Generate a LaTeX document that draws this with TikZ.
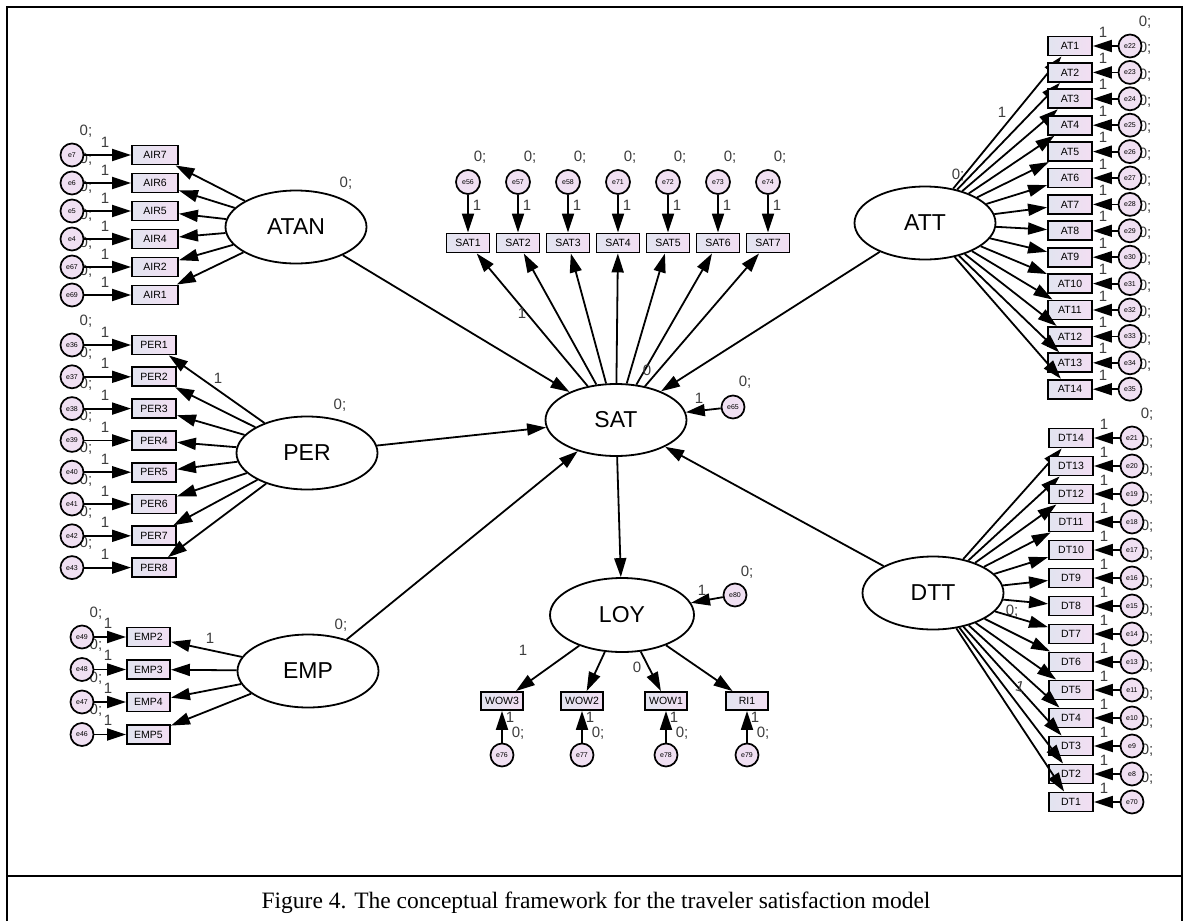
\documentclass[tikz,border=0pt]{standalone}
\usepackage{fontspec}
\setmainfont{Liberation Sans}
\newfontfamily\capfont{Liberation Serif}
\usetikzlibrary{arrows.meta,shapes.geometric}
\pgfdeclarelayer{bg}
\pgfsetlayers{bg,main}
\definecolor{boxL}{RGB}{226,228,240}
\definecolor{boxR}{RGB}{242,222,242}
\definecolor{errfill}{RGB}{240,224,242}
\definecolor{numgray}{RGB}{60,60,60}
\tikzset{
 obs/.style={draw, line width=1.9pt, left color=boxL, right color=boxR, minimum width=44pt, minimum height=19pt, inner sep=0pt, font=\fontsize{10.5}{10.5}\selectfont},
 err/.style={circle, draw, line width=1.7pt, fill=errfill, minimum size=23pt, inner sep=0pt, font=\fontsize{7}{7}\selectfont},
 lat/.style={ellipse, draw, line width=1.8pt, fill=white, minimum width=141pt, minimum height=73pt, inner sep=0pt, font=\fontsize{23}{23}\selectfont},
 pth/.style={line width=1.8pt, -{Triangle[length=19pt,width=12pt]}},
 num/.style={font=\fontsize{15}{15}\selectfont, text=numgray, inner sep=0pt},
 frm/.style={line width=2.2pt},
}
\begin{document}
\begin{tikzpicture}[x=1pt,y=-1pt]
\useasboundingbox (0,0) rectangle (1186,921);
% frame
\draw[frm] (7,921) -- (7,7) -- (1182,7) -- (1182,921);
\draw[frm] (7,876) -- (1182,876);
\node[font=\capfont\fontsize{23.5}{24}\selectfont, inner sep=0pt] (cap) at (596,903) {Figure 4. The conceptual framework for the traveler satisfaction model};

% latent variables
\node[lat] (ATAN) at (296,227) {ATAN};
\node[lat] (PER) at (307,453) {PER};
\node[lat] (EMP) at (308,671) {EMP};
\node[lat, minimum height=72pt] (SAT) at (616,420) {SAT};
\node[lat, minimum width=144pt, minimum height=74pt] (LOY) at (622,615) {LOY};
\node[lat] (ATT) at (925,223) {ATT};
\node[lat] (DTT) at (933,593) {DTT};

% variance labels of latents
\node[num] (vATAN) at (346,183) {0;};
\node[num] (vPER) at (340,405) {0;};
\node[num] (vEMP) at (341,625) {0;};
\node[num] (vATT) at (958,175) {0;};
\node[num] (vDTT) at (1012,611) {0;};

% AIR
\foreach \lab/\en [count=\i from 0] in {AIR7/e7,AIR6/e6,AIR5/e5,AIR4/e4,AIR2/e67,AIR1/e69}{
  \pgfmathsetmacro{\yy}{155+28*\i}
  \begin{pgfonlayer}{bg}\node[num] (vair\i) at (86,\yy-24) {0;};\end{pgfonlayer}
  \node[obs, minimum width=46pt] (air\i) at (155,\yy) {\lab};
  \node[err] (eair\i) at (72,\yy) {\en};
  \draw[pth] (eair\i) -- (air\i);
  \draw[pth] (ATAN) -- (air\i);
  \node[num] (nair\i) at (105,\yy-13) {1};
}
% PER
\foreach \lab/\en [count=\i from 0] in {PER1/e36,PER2/e37,PER3/e38,PER4/e39,PER5/e40,PER6/e41,PER7/e42,PER8/e43}{
  \pgfmathsetmacro{\yy}{345+31.8*\i}
  \begin{pgfonlayer}{bg}\node[num] (vper\i) at (86,\yy-24) {0;};\end{pgfonlayer}
  \node[obs] (per\i) at (154,\yy) {\lab};
  \node[err] (eper\i) at (72,\yy) {\en};
  \draw[pth] (eper\i) -- (per\i);
  \draw[pth] (PER) -- (per\i);
  \node[num] (nper\i) at (105,\yy-13) {1};
}
\node[num] (lPER) at (218,378) {1};
% EMP
\foreach \lab/\en [count=\i from 0] in {EMP2/e49,EMP3/e48,EMP4/e47,EMP5/e46}{
  \pgfmathsetmacro{\yy}{637+32.5*\i}
  \begin{pgfonlayer}{bg}\node[num] (vemp\i) at (96,\yy-24) {0;};\end{pgfonlayer}
  \node[obs, minimum width=43pt] (emp\i) at (148.5,\yy) {\lab};
  \node[err] (eemp\i) at (82,\yy) {\en};
  \draw[pth] (eemp\i) -- (emp\i);
  \draw[pth] (EMP) -- (emp\i);
  \node[num] (nemp\i) at (108,\yy-14) {1};
}
\node[num] (lEMP) at (210,638) {1};
% SAT items
\foreach \lab/\en [count=\i from 0] in {SAT1/e56,SAT2/e57,SAT3/e58,SAT4/e71,SAT5/e72,SAT6/e73,SAT7/e74}{
  \pgfmathsetmacro{\xx}{468+50*\i}
  \begin{pgfonlayer}{bg}\node[num] (vsat\i) at (\xx+12,157) {0;};\end{pgfonlayer}
  \node[obs, minimum width=43pt] (sat\i) at (\xx,243) {\lab};
  \node[err, minimum size=24pt] (esat\i) at (\xx,182) {\en};
  \draw[pth] (esat\i) -- (sat\i);
  \draw[pth] (SAT) -- (sat\i);
  \node[num] (nsat\i) at (\xx+9,205) {1};
}
\node[num] (lSAT1) at (522,313) {1};
\node[num] (lSAT7) at (647,370) {0};
% LOY items
\foreach \lab/\en/\xx [count=\i from 0] in {WOW3/e76/502,WOW2/e77/582,WOW1/e78/666,RI1/e79/747}{
  \begin{pgfonlayer}{bg}\node[num] (vloy\i) at (\xx+16,733) {0;};\end{pgfonlayer}
  \node[obs, minimum width=42pt, minimum height=18pt] (loy\i) at (\xx,701) {\lab};
  \node[err] (eloy\i) at (\xx,755) {\en};
  \draw[pth] (eloy\i) -- (loy\i);
  \draw[pth] (LOY) -- (loy\i);
  \node[num] (nloy\i) at (\xx+8,717) {1};
}
\node[num] (lLOY1) at (523,650) {1};
\node[num] (lLOY3) at (637,667) {0};
% AT items
\foreach \i in {0,...,13}{
  \pgfmathsetmacro{\yy}{46+26.4*\i}
  \pgfmathtruncatemacro{\k}{\i+1}
  \pgfmathtruncatemacro{\en}{22+\i}
  \begin{pgfonlayer}{bg}\node[num] (vat\i) at (1145,\yy-24) {0;};\end{pgfonlayer}
  \node[obs] (at\i) at (1070,\yy) {AT\k};
  \node[err] (eat\i) at (1130,\yy) {e\en};
  \draw[pth] (eat\i) -- (at\i);
  \draw[pth] (ATT) -- (at\i);
  \node[num] (nat\i) at (1103,\yy-14) {1};
}
\node[num] (lATT) at (1002,112) {1};
% DT items
\foreach \k/\en [count=\i from 0] in {14/21,13/20,12/19,11/18,10/17,9/16,8/15,7/14,6/13,5/11,4/10,3/9,2/8,1/70}{
  \pgfmathsetmacro{\yy}{438+28*\i}
  \begin{pgfonlayer}{bg}\node[num] (vdt\i) at (1147,\yy-24) {0;};\end{pgfonlayer}
  \node[obs] (dt\i) at (1071,\yy) {DT\k};
  \node[err] (edt\i) at (1132,\yy) {e\en};
  \draw[pth] (edt\i) -- (dt\i);
  \draw[pth] (DTT) -- (dt\i);
  \node[num] (ndt\i) at (1104,\yy-14) {1};
}
\node[num, rotate=-15] (lDTT) at (1020,687) {1};

% structural errors
\node[num] (ve65) at (745,382) {0;};
\node[err] (e65) at (733,407) {e65};
\node[num] (le65) at (699,398) {1};
\node[num] (ve80) at (747,572) {0;};
\node[err] (e80) at (735,595) {e80};
\node[num] (le80) at (702,590) {1};

% structural paths
\draw[pth] (ATAN) -- (SAT);
\draw[pth] (PER) -- (SAT);
\draw[pth] (EMP) -- (SAT);
\draw[pth] (ATT) -- (SAT);
\draw[pth] (DTT) -- (SAT);
\draw[pth] (SAT) -- (LOY);
\draw[pth] (e65) -- (SAT);
\draw[pth] (e80) -- (LOY);
\end{tikzpicture}
\end{document}
